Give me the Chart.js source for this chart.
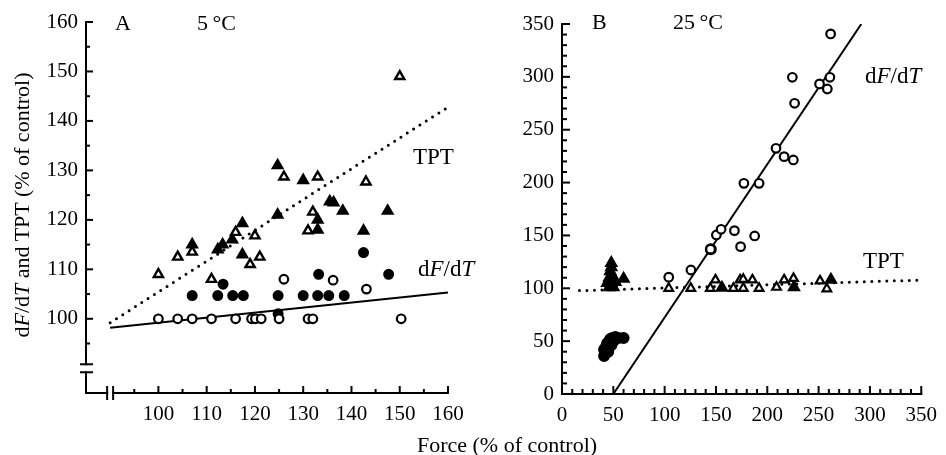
<!DOCTYPE html>
<html>
<head>
<meta charset="utf-8">
<script src="https://cdn.jsdelivr.net/npm/chart.js@4.4.0/dist/chart.umd.min.js"></script>
<style>
  body { margin: 0; background: #fff; width: 946px; height: 455px; position: relative; overflow: hidden; font-family: "Liberation Serif", serif; }
  canvas { position: absolute; top: 0; }
  .t { position: absolute; line-height: 1; font-size: 22px; white-space: nowrap; color: #000; }
  .big { font-size: 23px; }
</style>
</head>
<body>
<canvas id="chartA" width="480" height="455" style="left:0"></canvas>
<canvas id="chartB" width="466" height="455" style="left:480px"></canvas>

<div class="t" style="left:115px;top:12px">A</div>
<div class="t" style="left:197px;top:12px">5&thinsp;°C</div>
<div class="t" style="left:592px;top:11px">B</div>
<div class="t" style="left:673px;top:11px">25&thinsp;°C</div>
<div class="t big" style="left:413px;top:145px">TPT</div>
<div class="t big" style="left:418px;top:257px">d<i>F</i>/d<i>T</i></div>
<div class="t big" style="left:865px;top:64px">d<i>F</i>/d<i>T</i></div>
<div class="t big" style="left:863px;top:249px">TPT</div>
<div class="t" style="left:307px;top:434px;width:400px;text-align:center">Force (% of control)</div>
<div class="t" style="left:-178px;top:194px;width:400px;height:22px;text-align:center;transform:rotate(-90deg)">d<i>F</i>/d<i>T</i> and TPT (% of control)</div>

<script>
// ---- panel A, 5 °C ----
const aTicks = [100, 110, 120, 130, 140, 150, 160];
const aTptOpen = [[100,109],[104,112.5],[107,113.5],[111,108],[116,117.5],[119,111],[120,116.8],[121,112.5],
  [126,128.7],[131,117.8],[132,121.6],[133,128.7],[143,127.7],[150,149]];
const aTptFilled = [[107,115],[112.3,114],[113.3,115],[115.3,116],[117.4,119.3],[117.4,113],[124.7,121],[124.7,131],
  [130,128],[133,120],[133,118],[135.5,123.7],[136.3,123.5],[138.2,121.8],[142.5,117.8],[147.5,121.8]];
const aDfOpen = [[100,100],[104,100],[107,100],[111,100],[116,100],[119.3,100],[120.1,100],[121.3,100],[125,100],
  [131,100],[132,100],[150.3,100],[126,108],[136.2,107.8],[143.1,106]];
const aDfFilled = [[107,104.7],[112.3,104.7],[113.4,107],[115.4,104.7],[117.6,104.7],[124.8,104.7],[124.8,101],
  [130,104.7],[133,104.7],[135.3,104.7],[138.5,104.7],[133.2,109],[142.5,113.4],[147.7,109]];
const aTptFit = [[90,99.2],[160,142.8]];
const aDfFit = [[90,98.2],[160,105.3]];

// ---- panel B, 25 °C ----
const bTicks = [0, 50, 100, 150, 200, 250, 300, 350];
const bDfOpen = [[104,110.5],[125.6,117.3],[144.7,137],[150.4,150.4],[155,155.8],[168,154.5],[174,139.4],[177.2,199.3],
  [187.7,149.5],[192,199.3],[208.5,232.4],[216.4,224.5],[225.4,221.4],[224.4,299.6],[226.6,275],[250.9,293.3],
  [258.5,288.5],[261,299.6],[261.7,340.6]];
const bDfFilled = [[41,36],[41,42],[43,45],[44,48],[45,40],[46,50],[47,52],[48,46],[49,53],[50,50],[52,54],[55,53],
  [60,53],[145,137]];
const bTptOpen = [[104,100],[125.5,100],[144.5,100],[149.5,108],[167,100],[173.5,108],[176.6,108.5],[176.6,100],
  [185.5,108],[192,100],[209,101],[216.4,108],[225.5,109.4],[251.4,107],[258,99.5]];
const bTptFilled = [[46,101],[50,101],[44,105],[48,105],[52,106],[46,110],[49,112],[47,116],[48,120],[48,124],
  [60,109],[155.8,100.5],[226,101],[262,108]];
const bTptFit = [[17,97.8],[350,107.8]];
const bDfFit = [[50,0],[291.6,350]];

const pts = arr => arr.map(p => ({x: p[0], y: p[1]}));

function line(ctx, x1, y1, x2, y2) {
  ctx.beginPath(); ctx.moveTo(x1, y1); ctx.lineTo(x2, y2); ctx.stroke();
}

// axes drawn by hand so ticks point inward and panel A gets its axis breaks
const axesPlugin = {
  id: 'axes',
  afterDraw(chart, args, o) {
    const {ctx, chartArea: a, scales: {x, y}} = chart;
    ctx.save();
    ctx.strokeStyle = '#000';
    ctx.lineWidth = 2;
    for (let v = o.xFrom; v <= x.max + 0.01; v += o.minorStep.x) {
      const px = x.getPixelForValue(v);
      line(ctx, px, a.bottom, px, a.bottom - (v % o.majorStep.x === 0 ? o.major : o.minor));
    }
    for (let v = o.yFrom; v <= y.max + 0.01; v += o.minorStep.y) {
      const py = y.getPixelForValue(v);
      line(ctx, a.left, py, a.left + (v % o.majorStep.y === 0 ? o.major : o.minor), py);
    }
    ctx.lineCap = 'square';
    if (o.breakAt != null) {
      const yb = y.getPixelForValue(o.breakAt);
      const xb = x.getPixelForValue(o.breakAt);
      line(ctx, a.left, a.top, a.left, yb - 4);
      line(ctx, a.left, yb + 4, a.left, a.bottom);
      line(ctx, a.left, a.bottom, xb - 3, a.bottom);
      line(ctx, xb + 3, a.bottom, a.right, a.bottom);
      ctx.lineCap = 'butt';
      line(ctx, a.left - 6, yb - 4, a.left + 7, yb - 4);
      line(ctx, a.left - 6, yb + 4, a.left + 7, yb + 4);
      line(ctx, xb - 3, a.bottom - 7, xb - 3, a.bottom + 7);
      line(ctx, xb + 3, a.bottom - 7, xb + 3, a.bottom + 7);
    } else {
      line(ctx, a.left, a.top, a.left, a.bottom);
      line(ctx, a.left, a.bottom, a.right, a.bottom);
    }
    ctx.restore();
  }
};

const tickFont = {family: '"Liberation Serif", serif', size: 21};

function axis(min, max, ticks, pad, fit) {
  return {
    type: 'linear', min: min, max: max,
    grid: {display: false, drawTicks: false},
    border: {display: false},
    ticks: {font: tickFont, color: '#000', padding: pad, maxRotation: 0, autoSkip: false},
    afterBuildTicks: s => { s.ticks = ticks.map(v => ({value: v})); },
    afterFit: fit
  };
}

function marks(data, style, filled, r, bw) {
  return {
    data: pts(data), pointStyle: style, pointRadius: r, pointHoverRadius: r,
    pointBackgroundColor: filled ? '#000' : '#fff', pointBorderColor: '#000', pointBorderWidth: bw || 2,
    showLine: false
  };
}

function fitLine(data, dotted) {
  return {
    data: pts(data), showLine: true, pointRadius: 0, borderColor: '#000',
    borderWidth: dotted ? 3 : 2, borderDash: dotted ? [0, 7.5] : [],
    borderCapStyle: dotted ? 'round' : 'butt', fill: false
  };
}

function options(xMin, xMax, yMin, yMax, xt, yt, pad, yW, xH, axOpts) {
  return {
    responsive: false, animation: false,
    layout: {padding: pad},
    plugins: {legend: {display: false}, tooltip: {enabled: false}, axes: axOpts},
    scales: {
      x: axis(xMin, xMax, xt, 9, s => { s.height = xH; }),
      y: axis(yMin, yMax, yt, 8, s => { s.width = yW; })
    }
  };
}

new Chart(document.getElementById('chartA'), {
  type: 'scatter',
  data: {datasets: [
    marks(aDfOpen, 'circle', false, 4.3, 2.2),
    marks(aDfFilled, 'circle', true, 4.5),
    marks(aTptOpen, 'triangle', false, 5.3, 2.4),
    marks(aTptFilled, 'triangle', true, 5.8),
    fitLine(aTptFit, true),
    fitLine(aDfFit, false)
  ]},
  options: options(85, 160, 85, 160, aTicks, aTicks, {left: 0, top: 22, right: 32, bottom: 0}, 86, 62,
    {xFrom: 95, yFrom: 95, minorStep: {x: 5, y: 5}, majorStep: {x: 10, y: 10}, major: 7, minor: 4, breakAt: 90}),
  plugins: [axesPlugin]
});

new Chart(document.getElementById('chartB'), {
  type: 'scatter',
  data: {datasets: [
    marks(bDfOpen, 'circle', false, 4.3, 2.2),
    marks(bDfFilled, 'circle', true, 5),
    marks(bTptOpen, 'triangle', false, 5, 2.2),
    marks(bTptFilled, 'triangle', true, 6),
    fitLine(bTptFit, true),
    fitLine(bDfFit, false)
  ]},
  options: options(0, 350, 0, 350, bTicks, bTicks, {left: 0, top: 24, right: 18, bottom: 0}, 82, 61,
    {xFrom: 10, yFrom: 10, minorStep: {x: 10, y: 10}, majorStep: {x: 50, y: 50}, major: 8, minor: 5, breakAt: null}),
  plugins: [axesPlugin]
});
</script>
</body>
</html>
